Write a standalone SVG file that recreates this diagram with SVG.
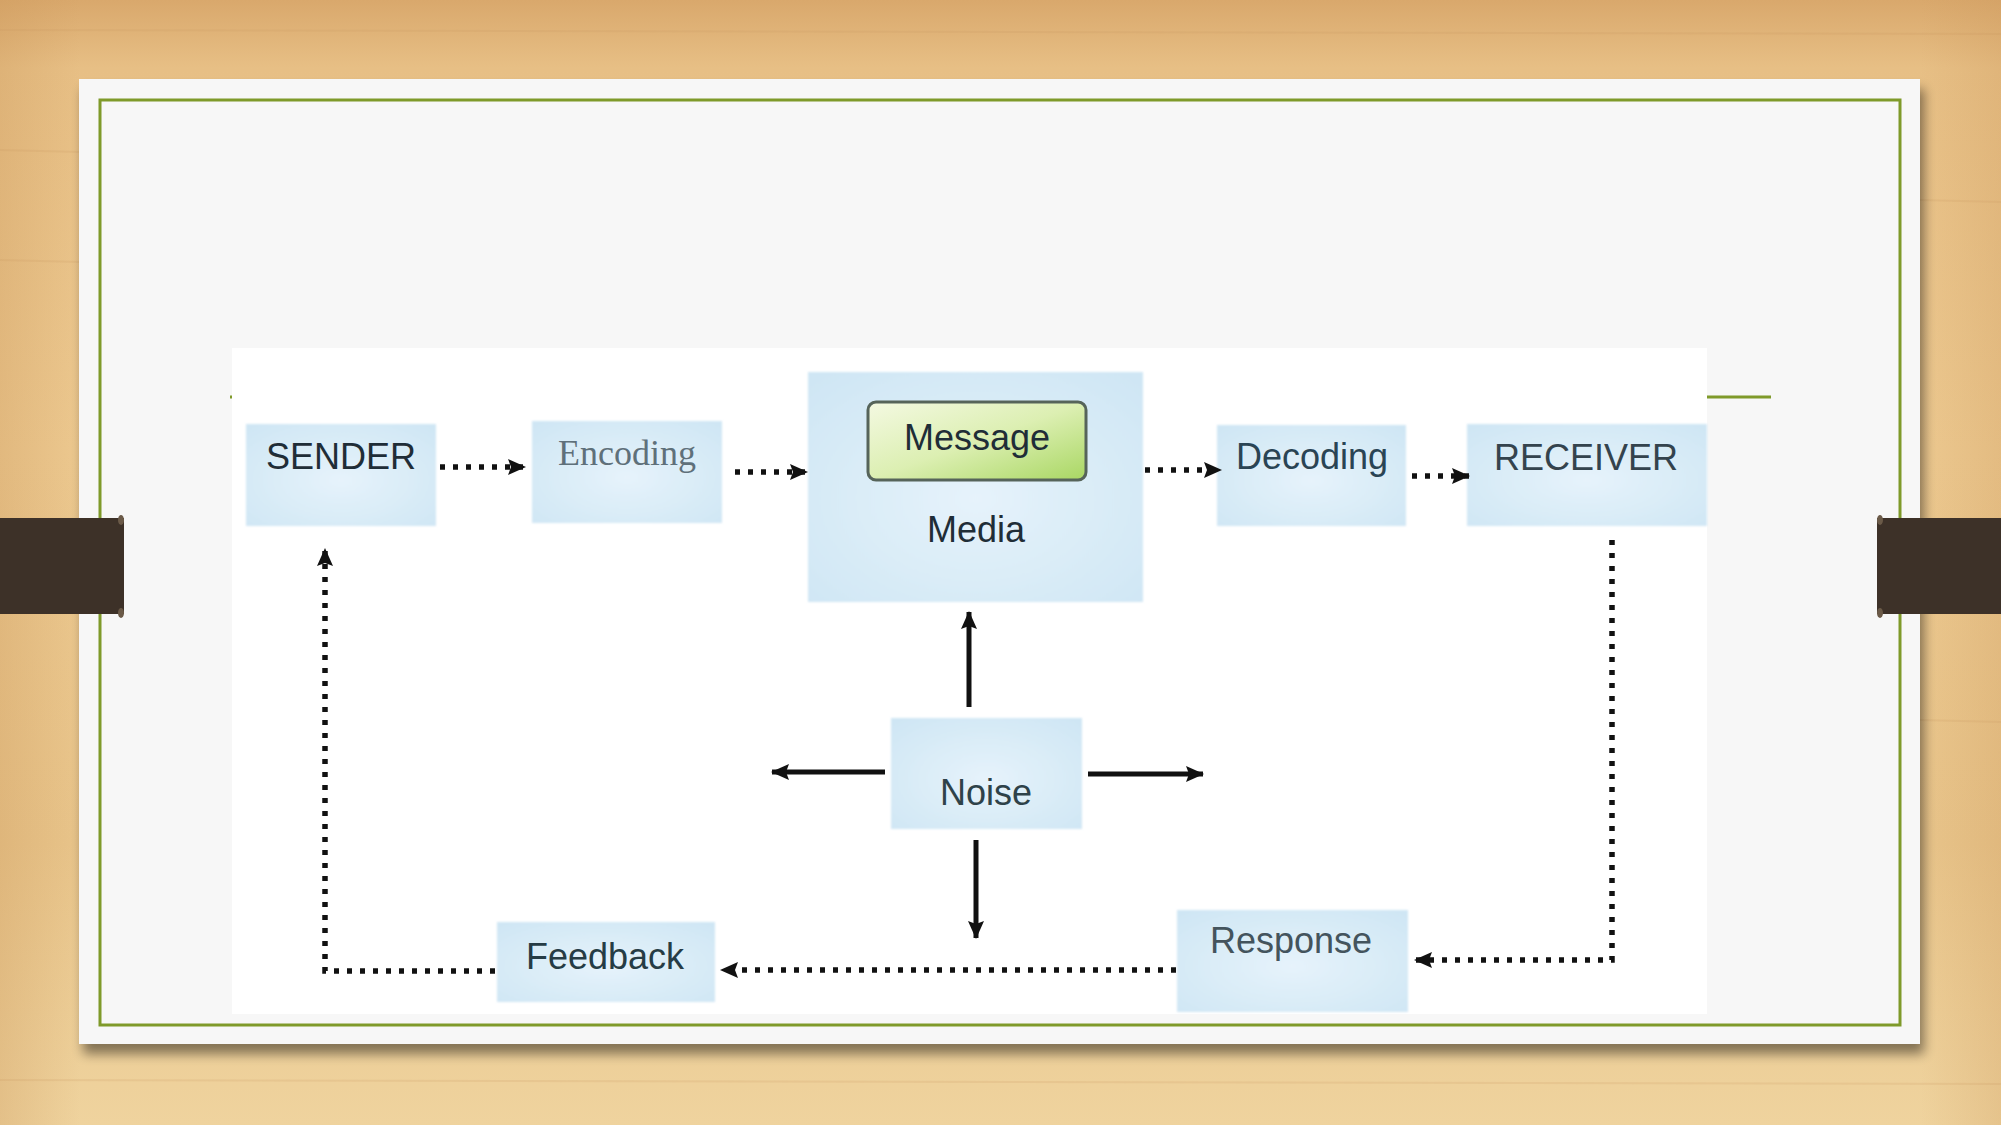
<svg xmlns="http://www.w3.org/2000/svg" width="2001" height="1125" viewBox="0 0 2001 1125">
<defs>
<linearGradient id="wood" x1="0" y1="0" x2="0" y2="1">
<stop offset="0" stop-color="#d9a86c"/>
<stop offset="0.06" stop-color="#e7bf85"/>
<stop offset="0.4" stop-color="#ecc88f"/>
<stop offset="0.75" stop-color="#e8c48a"/>
<stop offset="1" stop-color="#efd39e"/>
</linearGradient>
<linearGradient id="woodside" x1="0" y1="0" x2="1" y2="0">
<stop offset="0" stop-color="#c99558" stop-opacity="0.3"/>
<stop offset="0.04" stop-color="#c99558" stop-opacity="0"/>
<stop offset="0.96" stop-color="#c99558" stop-opacity="0"/>
<stop offset="1" stop-color="#c99558" stop-opacity="0.25"/>
</linearGradient>
<radialGradient id="boxfill" cx="0.5" cy="0.55" r="0.7">
<stop offset="0" stop-color="#e6f3fb"/>
<stop offset="1" stop-color="#cfe6f4"/>
</radialGradient>
<linearGradient id="msgfill" x1="0" y1="0" x2="1" y2="1">
<stop offset="0" stop-color="#f4f9e2"/>
<stop offset="0.5" stop-color="#dcefb2"/>
<stop offset="1" stop-color="#a9d763"/>
</linearGradient>
<filter id="shadow" x="-5%" y="-5%" width="110%" height="115%">
<feGaussianBlur in="SourceAlpha" stdDeviation="6"/>
<feOffset dx="4" dy="10" result="b"/>
<feComponentTransfer><feFuncA type="linear" slope="0.45"/></feComponentTransfer>
<feMerge><feMergeNode/><feMergeNode in="SourceGraphic"/></feMerge>
</filter>
<filter id="soft" x="-5%" y="-5%" width="110%" height="110%">
<feGaussianBlur stdDeviation="1.2"/>
</filter>
<marker id="ah" viewBox="0 0 18 16" refX="17" refY="8" markerWidth="18" markerHeight="16" markerUnits="userSpaceOnUse" orient="auto">
<path d="M0,0 L18,8 L0,16 L3,8 Z" fill="#111"/>
</marker>
<style>
.box{fill:url(#boxfill);filter:url(#soft);}
.lbl{font-family:"Liberation Sans",Arial,sans-serif;font-size:36px;fill:#1f2d37;text-anchor:middle;}
.ser{font-family:"Liberation Serif","Times New Roman",serif;font-size:36px;fill:#5f707a;text-anchor:middle;}
.dot{fill:none;stroke:#111;stroke-width:5.5;stroke-dasharray:5 8;marker-end:url(#ah);}
.solid{fill:none;stroke:#111;stroke-width:5;marker-end:url(#ah);}
</style>
</defs>

<!-- background -->
<rect x="0" y="0" width="2001" height="1125" fill="url(#wood)"/>
<rect x="0" y="0" width="2001" height="1125" fill="url(#woodside)"/>
<g stroke="#c8985e" stroke-opacity="0.18" stroke-width="2">
<line x1="0" y1="30" x2="2001" y2="34"/>
<line x1="0" y1="150" x2="80" y2="152"/>
<line x1="0" y1="260" x2="80" y2="262"/>
<line x1="1920" y1="200" x2="2001" y2="202"/>
<line x1="1920" y1="720" x2="2001" y2="722"/>
<line x1="0" y1="1080" x2="2001" y2="1084"/>
</g>

<!-- paper -->
<rect x="79" y="79" width="1841" height="965" fill="#f7f7f7" filter="url(#shadow)"/>
<rect x="100" y="100" width="1800" height="925" fill="none" stroke="#7f9a2a" stroke-width="3"/>
<line x1="230" y1="397" x2="1771" y2="397" stroke="#7f9a2a" stroke-width="3"/>

<!-- tabs -->
<rect x="0" y="518" width="124" height="96" fill="#3d3128"/>
<rect x="1877" y="518" width="124" height="96" fill="#3d3128"/>
<ellipse cx="121" cy="520" rx="3" ry="5" fill="#6b5a48"/>
<ellipse cx="121" cy="613" rx="3" ry="5" fill="#6b5a48"/>
<ellipse cx="1880" cy="520" rx="3" ry="5" fill="#6b5a48"/>
<ellipse cx="1880" cy="613" rx="3" ry="5" fill="#6b5a48"/>

<!-- diagram image area -->
<rect x="232" y="348" width="1475" height="666" fill="#ffffff"/>

<g id="sender">
<rect class="box" x="246" y="424" width="190" height="102"/>
<text class="lbl" x="341" y="469">SENDER</text>
</g>
<g id="encoding">
<rect class="box" x="532" y="421" width="190" height="102"/>
<text class="ser" x="627" y="465">Encoding</text>
</g>
<g id="media">
<rect class="box" x="808" y="372" width="335" height="230"/>
<rect x="868" y="402" width="218" height="78" rx="8" fill="url(#msgfill)" stroke="#56645a" stroke-width="3"/>
<text class="lbl" x="977" y="450">Message</text>
<text class="lbl" x="976" y="542">Media</text>
</g>
<g id="decoding">
<rect class="box" x="1217" y="425" width="189" height="101"/>
<text class="lbl" x="1312" y="469" style="fill:#2a4454">Decoding</text>
</g>
<g id="receiver">
<rect class="box" x="1467" y="424" width="240" height="102"/>
<text class="lbl" x="1586" y="470" style="fill:#34434d">RECEIVER</text>
</g>
<g id="noise">
<rect class="box" x="891" y="718" width="191" height="111"/>
<text class="lbl" x="986" y="805" style="fill:#2e4249">Noise</text>
</g>
<g id="feedback">
<rect class="box" x="497" y="922" width="218" height="80"/>
<text class="lbl" x="605" y="969" style="fill:#263c45">Feedback</text>
</g>
<g id="response">
<rect class="box" x="1177" y="910" width="231" height="102"/>
<text class="lbl" x="1291" y="953" style="fill:#44545d">Response</text>
</g>

<g id="connectors">
<path class="dot" d="M440,467 H525"/>
<path class="dot" d="M735,472 H807"/>
<path class="dot" d="M1145,470 H1221"/>
<path class="dot" d="M1412,476 H1469"/>
<path class="dot" d="M1612,540 V960 H1415"/>
<path class="dot" d="M1176,970 H721"/>
<path class="dot" d="M495,971 H325 V549"/>
<path class="solid" d="M969,707 V612"/>
<path class="solid" d="M885,772 H772"/>
<path class="solid" d="M1088,774 H1203"/>
<path class="solid" d="M976,840 V938"/>
</g>
</svg>
